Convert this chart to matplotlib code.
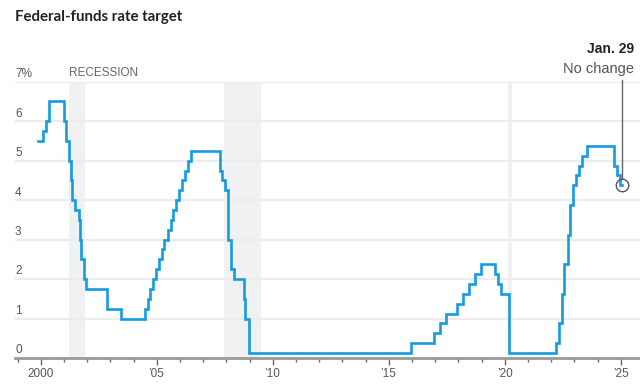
import numpy as np
import pandas as pd
import matplotlib.pyplot as plt

# federal-funds target (midpoint of range after Dec 2008), %
dates = ['1999-11-16', '2000-02-02', '2000-03-21', '2000-05-16',
         '2001-01-03', '2001-01-31', '2001-03-20', '2001-04-18', '2001-05-15',
         '2001-06-27', '2001-08-21', '2001-09-17', '2001-10-02', '2001-11-06',
         '2001-12-11', '2002-11-06', '2003-06-25',
         '2004-06-30', '2004-08-10', '2004-09-21', '2004-11-10', '2004-12-14',
         '2005-02-02', '2005-03-22', '2005-05-03', '2005-06-30', '2005-08-09',
         '2005-09-20', '2005-11-01', '2005-12-13', '2006-01-31', '2006-03-28',
         '2006-05-10', '2006-06-29',
         '2007-09-18', '2007-10-31', '2007-12-11', '2008-01-22', '2008-01-30',
         '2008-03-18', '2008-04-30', '2008-10-08', '2008-10-29', '2008-12-16',
         '2015-12-16', '2016-12-14', '2017-03-15', '2017-06-14', '2017-12-13',
         '2018-03-21', '2018-06-13', '2018-09-26', '2018-12-19',
         '2019-07-31', '2019-09-18', '2019-10-30', '2020-03-03', '2020-03-15',
         '2022-03-16', '2022-05-04', '2022-06-15', '2022-07-27', '2022-09-21',
         '2022-11-02', '2022-12-14', '2023-02-01', '2023-03-22', '2023-05-03',
         '2023-07-26', '2024-09-18', '2024-11-07', '2024-12-18', '2025-01-29']
rates = [5.5, 5.75, 6.0, 6.5,
         6.0, 5.5, 5.0, 4.5, 4.0,
         3.75, 3.5, 3.0, 2.5, 2.0,
         1.75, 1.25, 1.0,
         1.25, 1.5, 1.75, 2.0, 2.25,
         2.5, 2.75, 3.0, 3.25, 3.5,
         3.75, 4.0, 4.25, 4.5, 4.75,
         5.0, 5.25,
         4.75, 4.5, 4.25, 3.5, 3.0,
         2.25, 2.0, 1.5, 1.0, 0.125,
         0.375, 0.625, 0.875, 1.125, 1.375,
         1.625, 1.875, 2.125, 2.375,
         2.125, 1.875, 1.625, 1.125, 0.125,
         0.375, 0.875, 1.625, 2.375, 3.125,
         3.875, 4.375, 4.625, 4.875, 5.125,
         5.375, 4.875, 4.625, 4.375, 4.375]

rec_start = ['2001-03-15', '2007-12-01', '2020-02-20']
rec_end = ['2001-11-30', '2009-06-30', '2020-04-30']

y_ticks = [0, 1, 2, 3, 4, 5, 6, 7]
y_labels = ['0', '1', '2', '3', '4', '5', '6', '7%']
x_major = [2000, 2005, 2010, 2015, 2020, 2025]
x_labels = ['2000', "\u201905", "\u201910", "\u201915", "\u201920", "\u201925"]


def dec_year(s):
    d = pd.to_datetime(s)
    return d.year + (d.dayofyear - 1) / 365.25


x = np.array([dec_year(s) for s in dates])
y = np.array(rates)

plt.rcParams['font.family'] = ['Liberation Sans Narrow', 'Liberation Sans', 'DejaVu Sans']

W, H = 640, 391
fig = plt.figure(figsize=(W / 100, H / 100), dpi=100)
ax = fig.add_axes([15 / W, 1 - 358 / H, (640 - 15) / W, (358 - 81.7) / H])

px_per_year = 23.2
x0 = 2000 - (40.7 - 15) / px_per_year
x1 = 2000 + (640 - 40.7) / px_per_year
ax.set_xlim(x0, x1)
ax.set_ylim(0, 7)

for a, b in zip(rec_start, rec_end):
    ax.axvspan(dec_year(a), dec_year(b), ymin=0, ymax=1, color='#f0f1f3', lw=0, zorder=0)

for t in y_ticks[1:]:
    ax.axhline(t, color='#ececec', lw=1.6, zorder=1)

ax.plot(x, y, drawstyle='steps-post', color='#149be0', lw=1.9, zorder=3,
        solid_joinstyle='miter')

# end marker and call-out
ax.plot([x[-1]], [y[-1]], 'o', ms=9, mfc='none', mec='#555555', mew=1, zorder=4)
ax.plot([x[-1], x[-1]], [y[-1] + 0.16, 7.05], color='#666666', lw=1, clip_on=False, zorder=4)
fig.text(634 / W, 1 - 53 / H, 'Jan. 29', ha='right', va='baseline',
         fontsize=10, fontweight='bold', color='#222222')
fig.text(634 / W, 1 - 73 / H, 'No change', ha='right', va='baseline',
         fontsize=10.5, color='#555555')

# y labels sit above their gridlines
for t, lab in zip(y_ticks, y_labels):
    ax.text(0, t + 0.04, lab, transform=ax.get_yaxis_transform(), ha='left', va='bottom',
            fontsize=8.5, color='#555555')
ax.set_yticks([])

ax.text(dec_year(rec_start[0]), 7.06, 'RECESSION', ha='left', va='bottom',
        fontsize=8.5, color='#666666')

fig.text(15 / W, 1 - 21 / H, 'Federal-funds rate target', ha='left', va='baseline',
         fontsize=10.8, fontweight='bold', color='#222222', family='Lato')

ax.set_xticks(x_major)
ax.set_xticklabels(x_labels)
ax.set_xticks(np.arange(1999, 2026), minor=True)
ax.tick_params(axis='x', which='major', length=5, width=1, color='#666666',
               labelsize=8.5, labelcolor='#555555', pad=2)
ax.tick_params(axis='x', which='minor', length=3, width=1, color='#666666')

for s in ['top', 'right', 'left']:
    ax.spines[s].set_visible(False)
ax.spines['bottom'].set_color('#999999')
ax.spines['bottom'].set_linewidth(2)

plt.savefig('out.png', dpi=100)
